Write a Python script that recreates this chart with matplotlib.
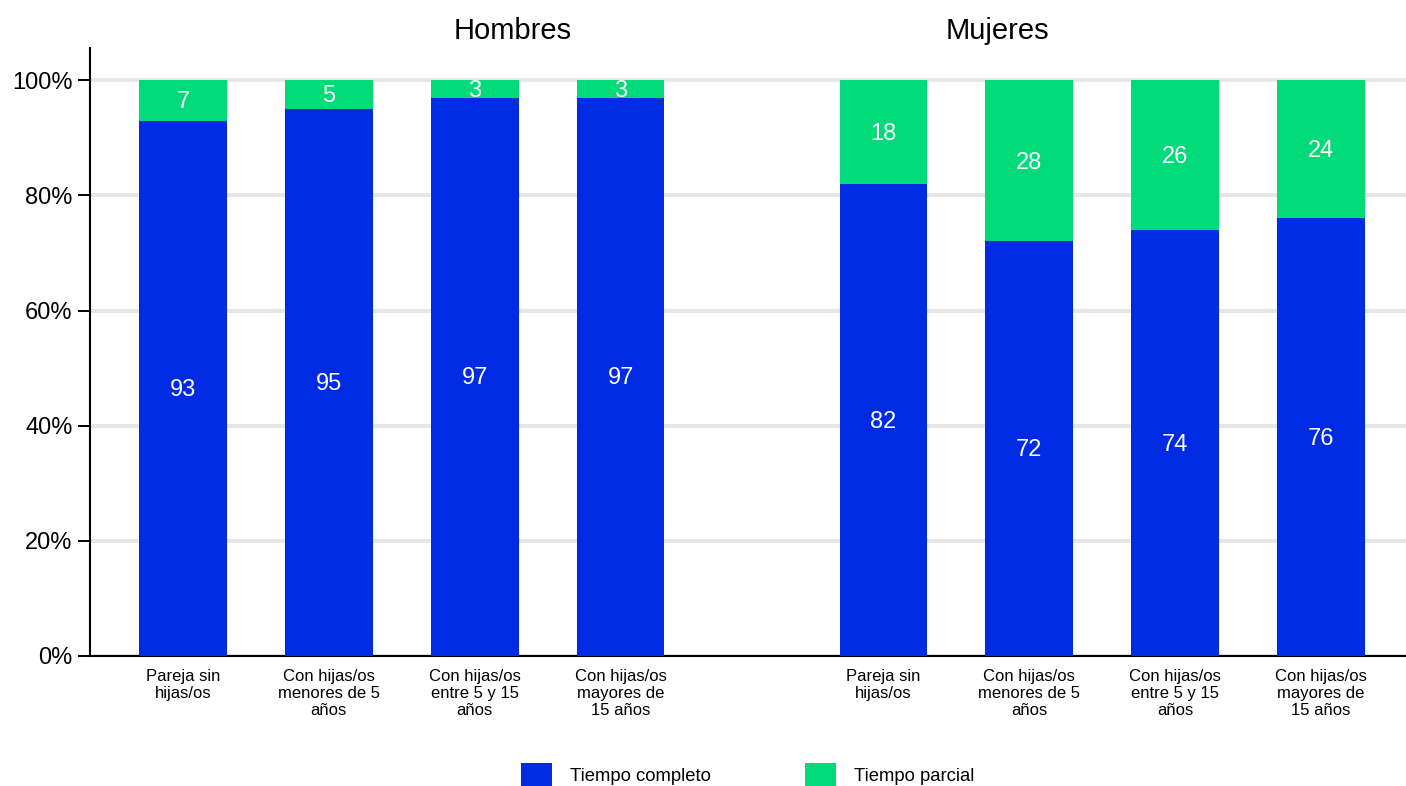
import matplotlib
matplotlib.use("Agg")
import matplotlib.pyplot as plt
from matplotlib.patches import Patch
import numpy as np

plt.rcParams['font.family'] = ['Liberation Sans', 'DejaVu Sans']

# Data
categories = ["Pareja sin\nhijas/os", "Con hijas/os\nmenores de 5\naños",
              "Con hijas/os\nentre 5 y 15\naños", "Con hijas/os\nmayores de\n15 años"]
groups = ["Hombres", "Mujeres"]
hombres_completo = [93, 95, 97, 97]
hombres_parcial = [7, 5, 3, 3]
mujeres_completo = [82, 72, 74, 76]
mujeres_parcial = [18, 28, 26, 24]
series_names = ["Tiempo completo", "Tiempo parcial"]
y_ticks = [0, 20, 40, 60, 80, 100]

blue = "#002BE2"
green = "#00DA78"

fig = plt.figure(figsize=(14.06, 7.86), dpi=100)
ax = fig.add_axes([90 / 1406, 1 - 656 / 786, (1406 - 90) / 1406, (656 - 48) / 786])

n = len(categories)
x_h = np.arange(n, dtype=float)
x_m = x_h + 4.8
width = 0.6

completo = hombres_completo + mujeres_completo
parcial = hombres_parcial + mujeres_parcial
xs = np.concatenate([x_h, x_m])

ax.bar(xs, completo, width=width, color=blue, zorder=3)
ax.bar(xs, parcial, width=width, bottom=completo, color=green, zorder=3)

for x, c, p in zip(xs, completo, parcial):
    ax.text(x, c / 2 - 0.3, f"{c}", ha="center", va="center", color="white",
            fontsize=17, zorder=4)
    ax.text(x, c + p / 2 - 0.3, f"{p}", ha="center", va="center", color="white",
            fontsize=17, zorder=4)

ax.set_xlim(-0.637, 8.382)
ax.set_ylim(0, 105.6)
ax.set_yticks(y_ticks)
ax.set_yticklabels([f"{v}%" for v in y_ticks], fontsize=17)
ax.set_xticks(xs)
ax.set_xticklabels(categories * 2, fontsize=12, linespacing=1.2)
ax.tick_params(axis="x", length=0, pad=9)
ax.tick_params(axis="y", length=9, width=1.4, pad=3.5)

ax.yaxis.grid(True, color="#e6e6e6", linewidth=2.9, zorder=0)
ax.set_axisbelow(True)
for side in ("top", "right"):
    ax.spines[side].set_visible(False)
for side in ("left", "bottom"):
    ax.spines[side].set_linewidth(1.5)

# Group titles
ax.text(2.26, 108.5, groups[0], ha="center", va="center", fontsize=21, clip_on=False)
ax.text(5.58, 108.5, groups[1], ha="center", va="center", fontsize=21, clip_on=False)

handles = [Patch(facecolor=blue, edgecolor="none"), Patch(facecolor=green, edgecolor="none")]
fig.legend(handles, series_names, loc="center", bbox_to_anchor=(0.532, 1 - 775 / 786),
           ncol=2, frameon=False, fontsize=13.3, handlelength=1.68, handleheight=1.6,
           handletextpad=0.97, columnspacing=5.1, borderpad=0)

fig.savefig("out.png", dpi=100)
